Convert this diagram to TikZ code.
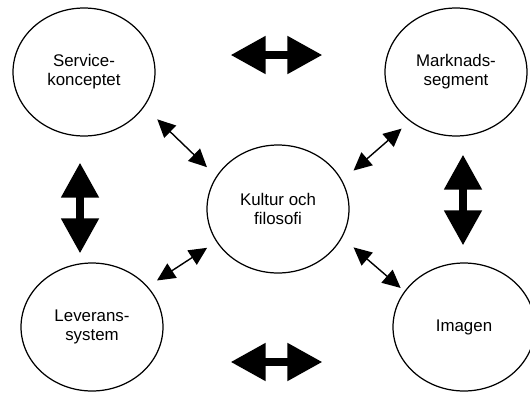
\documentclass[tikz,border=0pt]{standalone}
\usepackage{fontspec}
\setmainfont{Liberation Sans}
\usetikzlibrary{
arrows.meta,
shapes.geometric
}

\tikzset{
  part/.style={draw,ellipse,line width=0.7pt,minimum width=2.84cm,minimum height=2.56cm,
    inner sep=0pt,align=center,font=\fontsize{9.6}{10.8}\selectfont},
  thinarrow/.style={{Triangle[length=0.36cm,width=0.34cm]}-{Triangle[length=0.36cm,width=0.34cm]},line width=0.8pt},
  bigarrow/.style={{Triangle[length=0.7cm,width=0.72cm]}-{Triangle[length=0.7cm,width=0.72cm]},line width=4.5pt}
}

\begin{document}
\begin{tikzpicture}[x=0.02cm,y=-0.02cm]

\useasboundingbox (0,0) rectangle (530,392);

% Ellipses
\node[part] (svc) at (84,72) {Service-\\konceptet};
\node[part] (mkt) at (456,72) {Marknads-\\segment};
\node[part] (kul) at (278,209) {Kultur och\\filosofi};
\node[part] (lev) at (92,327) {Leverans-\\system};
\node[part] (img) at (464,327) {Imagen};

% Links to the centre
\foreach \a/\p/\b/\q/\s/\t in {svc/-30.6/kul/152.5/0.36/0.26,
                               mkt/-133.6/kul/24.8/0.22/0.30,
                               lev/36.2/kul/-152.7/0.22/0.22,
                               kul/-24.1/img/149.6/0.30/0.10}
{
\draw[thinarrow,shorten <=\s cm,shorten >=\t cm] (\a.\p) -- (\b.\q);
}

% Links round the edge
\draw[bigarrow,shorten <=1.5cm,shorten >=1.24cm] ([yshift=0.34cm]svc.east) -- ([yshift=0.34cm]mkt.west);
\draw[bigarrow,shorten <=1.34cm,shorten >=1.4cm] ([yshift=-0.7cm]lev.east) -- ([yshift=-0.7cm]img.west);
\draw[bigarrow,shorten <=0.52cm,shorten >=0.18cm] ([xshift=-0.08cm]svc.south) -- ([xshift=-0.24cm]lev.north);
\draw[bigarrow,shorten <=0.36cm,shorten >=0.34cm] ([xshift=0.14cm]mkt.south) -- ([xshift=-0.02cm]img.north);

\end{tikzpicture}
\end{document}
